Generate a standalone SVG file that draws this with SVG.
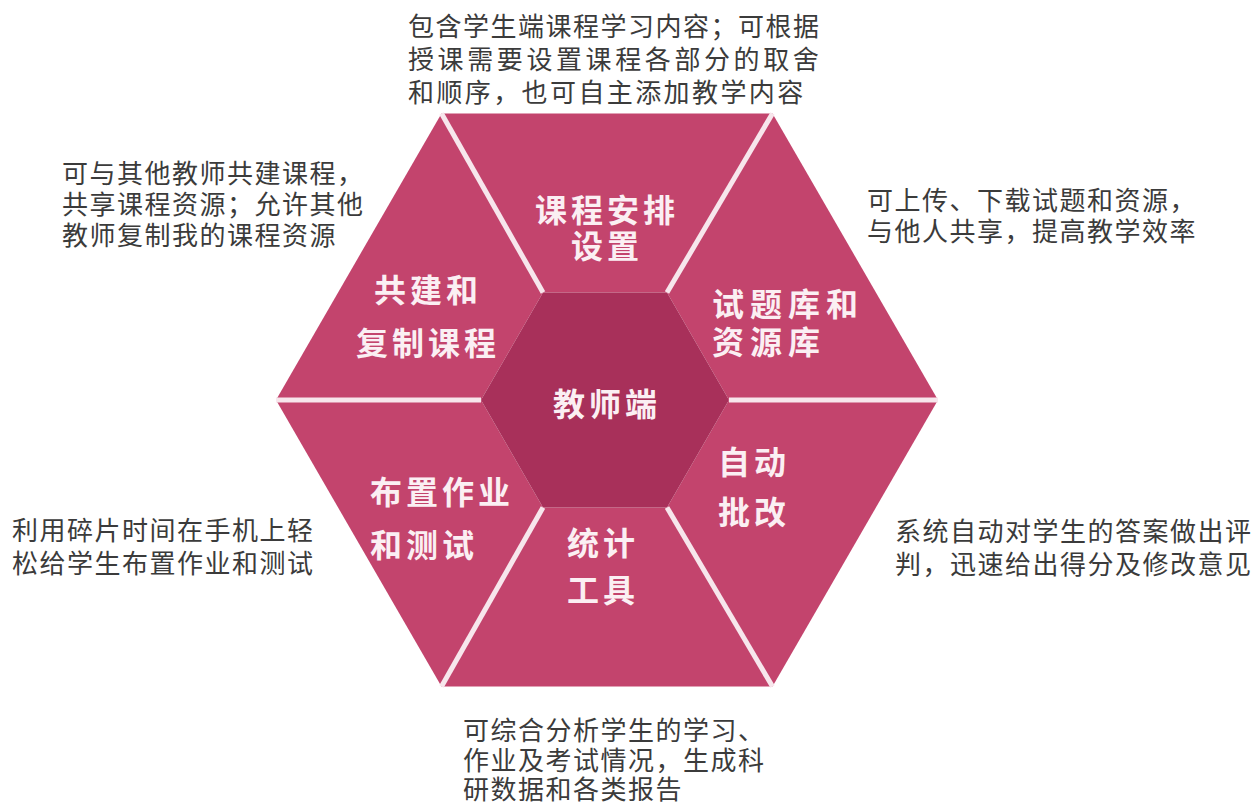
<svg xmlns="http://www.w3.org/2000/svg" width="1255" height="804" viewBox="0 0 1255 804">
<style>
.sec{fill:#c3446d}
.core{fill:#a8305a}
.sep{stroke:#f7e6ec;stroke-width:5;fill:none}
.lab{font-family:"Noto Sans CJK SC","Noto Sans",sans-serif;font-weight:700;font-size:32px;fill:#fbeff3;letter-spacing:4px}
.note{font-family:"Noto Sans CJK SC","Noto Sans",sans-serif;font-size:26px;fill:#3b3b3b;letter-spacing:1.5px}
.wide{letter-spacing:6px}
</style>
<rect width="1255" height="804" fill="#ffffff"/>
<g id="node-course-setup">
<polygon class="sec" points="441.5,113.4 772.5,113.4 667,292.6 543,292.6"/>
<text class="lab" text-anchor="middle"><tspan x="607" y="222">课程安排</tspan><tspan x="607" y="258">设置</tspan></text>
<text class="note"><tspan x="408" y="36">包含学生端课程学习内容；可根据</tspan><tspan x="408" y="69" style="letter-spacing:3.6px">授课需要设置课程各部分的取舍</tspan><tspan x="408" y="102" style="letter-spacing:2.4px">和顺序，也可自主添加教学内容</tspan></text>
</g>
<g id="node-question-bank">
<polygon class="sec" points="772.5,113.4 938,400 729,400 667,292.6"/>
<text class="lab wide"><tspan x="712" y="316">试题库和</tspan><tspan x="712" y="354">资源库</tspan></text>
<text class="note"><tspan x="867" y="210">可上传、下载试题和资源，</tspan><tspan x="867" y="241">与他人共享，提高教学效率</tspan></text>
</g>
<g id="node-auto-grading">
<polygon class="sec" points="938,400 772.5,686.6 667,507.4 729,400"/>
<text class="lab"><tspan x="718" y="474">自动</tspan><tspan x="718" y="524">批改</tspan></text>
<text class="note"><tspan x="895" y="541">系统自动对学生的答案做出评</tspan><tspan x="895" y="574">判，迅速给出得分及修改意见</tspan></text>
</g>
<g id="node-statistics">
<polygon class="sec" points="772.5,686.6 441.5,686.6 543,507.4 667,507.4"/>
<text class="lab"><tspan x="567" y="555">统计</tspan><tspan x="567" y="602">工具</tspan></text>
<text class="note"><tspan x="463" y="740">可综合分析学生的学习、</tspan><tspan x="463" y="770">作业及考试情况，生成科</tspan><tspan x="463" y="799">研数据和各类报告</tspan></text>
</g>
<g id="node-homework">
<polygon class="sec" points="441.5,686.6 276,400 481,400 543,507.4"/>
<text class="lab"><tspan x="370" y="504">布置作业</tspan><tspan x="370" y="557">和测试</tspan></text>
<text class="note"><tspan x="12" y="540">利用碎片时间在手机上轻</tspan><tspan x="12" y="573">松给学生布置作业和测试</tspan></text>
</g>
<g id="node-co-build">
<polygon class="sec" points="276,400 441.5,113.4 543,292.6 481,400"/>
<text class="lab" text-anchor="middle"><tspan x="428" y="302">共建和</tspan><tspan x="428" y="355">复制课程</tspan></text>
<text class="note"><tspan x="62" y="183">可与其他教师共建课程，</tspan><tspan x="62" y="214">共享课程资源；允许其他</tspan><tspan x="62" y="245">教师复制我的课程资源</tspan></text>
</g>
<g id="node-teacher">
<polygon class="core" points="729,400 667,292.6 543,292.6 481,400 543,507.4 667,507.4"/>
<text class="lab" x="607" y="416" text-anchor="middle">教师端</text>
</g>
<g id="connectors">
<line class="sep" x1="543" y1="292.6" x2="441.5" y2="113.4"/>
<line class="sep" x1="667" y1="292.6" x2="772.5" y2="113.4"/>
<line class="sep" x1="729" y1="400" x2="938" y2="400"/>
<line class="sep" x1="667" y1="507.4" x2="772.5" y2="686.6"/>
<line class="sep" x1="543" y1="507.4" x2="441.5" y2="686.6"/>
<line class="sep" x1="481" y1="400" x2="276" y2="400"/>
</g>
</svg>
